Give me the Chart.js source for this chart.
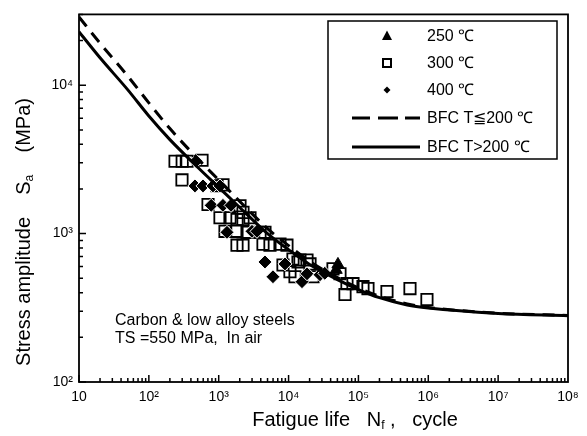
<!DOCTYPE html>
<html><head><meta charset="utf-8">
<script src="https://cdn.jsdelivr.net/npm/chart.js@4"></script>
<style>html,body{margin:0;padding:0;background:#fff}</style>
</head><body>
<canvas id="c" width="587" height="436" style="width:587px;height:436px;display:block"></canvas>
<script>
// ---- data ----
const xTickValues = [10, 1e2, 1e3, 1e4, 1e5, 1e6, 1e7, 1e8];
const xTickLabels = ['10', '10²', '10³', '10⁴', '10⁵', '10⁶', '10⁷', '10⁸'];
const yTickValues = [100, 1000, 10000];
const yTickLabels = ['10²', '10³', '10⁴'];

const life300 = [237, 300, 352, 577, 298, 945, 1151, 703, 2017, 2227, 1043, 1449, 1827, 2227, 2804, 1230, 1827, 2541, 3900, 4595, 1827, 2227, 4305, 5418, 7534, 9484, 11560, 14560, 18360, 20280, 10470, 12360, 22390, 43250, 54460, 68550, 83590, 116200, 137000, 64260, 256300, 547000, 957000, 8318, 13650];
const stress300 = [3070, 3070, 3070, 3120, 2300, 2100, 2130, 1570, 1540, 1390, 1280, 1280, 1245, 1245, 1280, 1036, 1036, 1020, 1020, 1020, 836, 836, 849, 836, 849, 836, 675, 664, 664, 625, 553, 512, 512, 579, 536, 460, 460, 439, 426, 389, 407, 426, 360, 615, 644];

const life400 = [473, 457, 596, 828, 1043, 780, 1150, 1500, 1313, 2995, 3532, 4595, 5980, 8886, 15560, 18360, 28180, 33000];
const stress400 = [3074, 2096, 2096, 2096, 2096, 1550, 1550, 1550, 1020, 1036, 1036, 644, 512, 625, 474, 536, 528, 540];

const life250 = [50900, 48000];
const stress250 = [620, 570];

const lifeBFC = [10, 20, 50, 100, 200, 500, 1e3, 2e3, 5e3, 1e4, 2e4, 5e4, 1e5, 2e5, 5e5, 1e6, 1e7, 1e8];
const stressBFCHigh = [22900, 15300, 9300, 6200, 4300, 2800, 2050, 1500, 1000, 780, 620, 490, 420, 370, 330, 315, 290, 280];
const stressBFCLow = [28800, 19200, 11500, 7600, 5100, 3200, 2300, 1650, 1080, 830, 650, 505, 430, 378, 336, 318, 291, 281];

const legendLabels = ['250 ℃', '300 ℃', '400 ℃', 'BFC T≦200 ℃', 'BFC T>200 ℃'];
const noteLines = ['Carbon & low alloy steels', 'TS =550 MPa,  In air'];

// ---- build ----
const pts = (xs, ys) => xs.map((x, i) => ({x: x, y: ys[i]}));
const FONT = "'Liberation Sans', Arial, sans-serif";

function drawRich(ctx, parts, x, y, size) {
  let total = 0;
  const widths = parts.map(p => {
    ctx.font = (p[1] ? Math.round(size * 0.62) : size) + 'px ' + FONT;
    const w = ctx.measureText(p[0]).width; total += w; return w;
  });
  let cx = x - total / 2;
  parts.forEach((p, i) => {
    ctx.font = (p[1] ? Math.round(size * 0.62) : size) + 'px ' + FONT;
    ctx.fillText(p[0], cx, p[1] ? y + size * 0.28 : y);
    cx += widths[i];
  });
}

const decor = {
  id: 'decor',
  afterDatasetsDraw(chart) {
    const ctx = chart.ctx, a = chart.chartArea;
    const xs = chart.scales.x, ys = chart.scales.y;
    ctx.save();
    ctx.strokeStyle = '#000'; ctx.fillStyle = '#000';
    ctx.lineWidth = 1.8;
    ctx.strokeRect(a.left, a.top, a.right - a.left, a.bottom - a.top);
    ctx.lineWidth = 1.5;
    ctx.beginPath();
    for (let e = 1; e <= 7; e++) {
      for (let m = 1; m <= 9; m++) {
        const v = m * Math.pow(10, e);
        const px = xs.getPixelForValue(v);
        const len = m === 1 ? 7 : 4;
        ctx.moveTo(px, a.bottom); ctx.lineTo(px, a.bottom - len);
      }
    }
    for (let e = 2; e <= 4; e++) {
      for (let m = 1; m <= 9; m++) {
        const v = m * Math.pow(10, e);
        if (v > 30000) continue;
        const py = ys.getPixelForValue(v);
        const len = m === 1 ? 7 : 4;
        ctx.moveTo(a.left, py); ctx.lineTo(a.left + len, py);
      }
    }
    ctx.stroke();

    ctx.textBaseline = 'middle';
    drawRich(ctx, [['Fatigue life   N', false], ['f', true], [' ,   cycle', false]], 355, 420, 20);
    ctx.save();
    ctx.translate(24, 232);
    ctx.rotate(-Math.PI / 2);
    drawRich(ctx, [['Stress amplitude    S', false], ['a', true], ['    (MPa)', false]], 0, 0, 20);
    ctx.restore();

    ctx.font = '16px ' + FONT;
    ctx.textAlign = 'left';
    ctx.fillText(noteLines[0], 115, 321);
    ctx.fillText(noteLines[1], 115, 339);

    ctx.lineWidth = 1.5;
    ctx.strokeRect(328, 21, 229, 138);
    const ly = [36, 63, 90, 118, 147];
    const tx = 427, sx = 387;
    ctx.beginPath();
    ctx.moveTo(sx, ly[0] - 5.5); ctx.lineTo(sx + 5, ly[0] + 4); ctx.lineTo(sx - 5, ly[0] + 4); ctx.closePath(); ctx.fill();
    ctx.lineWidth = 2;
    ctx.strokeRect(sx - 4, ly[1] - 4, 8, 8);
    ctx.beginPath();
    ctx.moveTo(sx, ly[2] - 3.5); ctx.lineTo(sx + 3.5, ly[2]); ctx.lineTo(sx, ly[2] + 3.5); ctx.lineTo(sx - 3.5, ly[2]); ctx.closePath(); ctx.fill();
    ctx.lineWidth = 3;
    ctx.beginPath();
    [[352, 370], [378, 398], [405, 420]].forEach(s => { ctx.moveTo(s[0], ly[3]); ctx.lineTo(s[1], ly[3]); });
    ctx.stroke();
    ctx.beginPath(); ctx.moveTo(352, ly[4]); ctx.lineTo(420, ly[4]); ctx.stroke();
    ctx.font = '16px ' + FONT;
    legendLabels.forEach((t, i) => ctx.fillText(t, tx, ly[i] + 1));
    ctx.restore();
  }
};

new Chart(document.getElementById('c'), {
  type: 'scatter',
  data: {
    datasets: [
      {label: 'BFC T>200 ℃', type: 'line', data: pts(lifeBFC, stressBFCHigh), borderColor: '#000', borderWidth: 3,
       pointRadius: 0, fill: false, cubicInterpolationMode: 'monotone', order: 0},
      {label: 'BFC T≦200 ℃', type: 'line', data: pts(lifeBFC, stressBFCLow), borderColor: '#000', borderWidth: 3,
       borderDash: [12, 8], pointRadius: 0, fill: false, cubicInterpolationMode: 'monotone', order: 0},
      {label: '300 ℃', data: pts(life300, stress300), pointStyle: 'rect', pointRadius: 8, borderColor: '#000',
       backgroundColor: 'rgba(0,0,0,0)', borderWidth: 1.8, order: 3},
      {label: '400 ℃', data: pts(life400, stress400), pointStyle: 'rectRot', pointRadius: 7, borderColor: '#fff',
       backgroundColor: '#000', borderWidth: 1, order: 2},
      {label: '250 ℃', data: pts(life250, stress250), pointStyle: 'triangle', pointRadius: 7, borderColor: '#000',
       backgroundColor: '#000', borderWidth: 1, order: 1}
    ]
  },
  options: {
    responsive: false,
    animation: false,
    devicePixelRatio: 1,
    layout: {padding: {top: 8, right: 19, left: 0, bottom: 0}},
    plugins: {legend: {display: false}, tooltip: {enabled: false}},
    scales: {
      x: {
        type: 'logarithmic', min: 10, max: 1e8, position: 'bottom',
        grid: {display: false, drawTicks: false}, border: {display: false},
        afterBuildTicks: s => { s.ticks = xTickValues.map(v => ({value: v})); },
        afterFit: s => { s.height = 54; },
        ticks: {autoSkip: false, maxRotation: 0, padding: 7, color: '#000', font: {family: FONT, size: 14},
          callback: (v, i) => xTickLabels[i]}
      },
      y: {
        type: 'logarithmic', min: 100, max: 30000, position: 'left',
        grid: {display: false, drawTicks: false}, border: {display: false},
        afterBuildTicks: s => { s.ticks = yTickValues.map(v => ({value: v})); },
        afterFit: s => { s.width = 79; },
        ticks: {autoSkip: false, padding: 6, color: '#000', font: {family: FONT, size: 14},
          callback: (v, i) => yTickLabels[i]}
      }
    }
  },
  plugins: [decor]
});
</script>
</body></html>
